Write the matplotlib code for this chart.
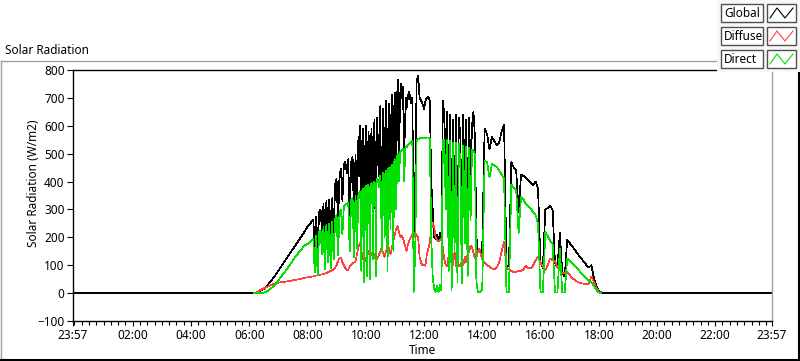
import numpy as np
import matplotlib
matplotlib.use('Agg')
import matplotlib.pyplot as plt
from matplotlib.patches import Rectangle

plt.rcParams['font.family'] = ['Noto Sans', 'DejaVu Sans']

nan = np.nan

# ---- sample times (minutes after midnight) ----
morning_minutes = np.arange(360, 480, 5)       # 06:00 .. 07:55
early_minutes = np.arange(480, 585, 3)         # 08:00 .. 09:42
dense_minutes = np.arange(585, 690, 1.5)       # 09:45 .. 11:28.5
late_minutes = np.arange(690, 840, 3)          # 11:30 .. 13:57
afternoon_minutes = np.arange(840, 1101, 5)    # 14:00 .. 18:20
night_start, night_end = -3, 1437              # 23:57 .. 23:57

# ---- Global ----
global_morning = [0, 0, 0, 3, 7, 11, 15, 22, 33, 44, 55, 67, 80, 93, 106, 119, 132, 145, 158, 171, 184, 197, 210, 223]
global_early = [238, 244, 250, 257, 264, 160, 275, 145, 290, 300,
                220, 320, 165, 330, 200, 335, 180, 340, 215, 390,
                410, 250, 420, 445, 330, 460, 470, 430, 480, 250,
                470, 490, 250, 495, 300]
global_dense = [560, 420, 600, 450, 240, 520, 590, 380, 140, 460,
                600, 350, 200, 480, 580, 300, 190, 520, 590, 420,
                250, 560, 620, 380, 110, 540, 630, 480, 420, 600,
                670, 400, 300, 560, 660, 420, 330, 600, 690, 450,
                230, 580, 680, 500, 350, 620, 710, 460, 320, 650,
                720, 520, 400, 690, 765, 600, 500, 680, 750, 700,
                700, 740, 620, 520, 600, 700, 660, 690, 700, 720]
global_late = [720, 680, 700, 210, 400, 760, 780, 700, 690, 680,
               660, 690, 700, 705, 690, 400, 300, 200, 195, 210,
               190, 215, 200, 690, 640, 400, 650, 230, 640, 170,
               620, 300, 640, 180, 630, 560, 150, 640, 300, 620,
               200, 630, 420, 600, 650, 560, 200, 150, 160, 140]
global_afternoon = [160, 590, 570, 515, 560, 545, 530, 540, 580, 605,
                    100, 95, 470, 450, 440, 290, 425, 420, 412, 405,
                    395, 388, 400, 375, 110, 90, 300, 305, 312, 300,
                    107, 95, 215, 70, 60, 190, 180, 168, 158, 145,
                    133, 122, 112, 100, 92, 100, 55, 28, 10, 2,
                    0, 0, 0]

# ---- Diffuse ----
diffuse_morning = [nan, nan, 0, 3, 8, 13, 17, 21, 25, 29, 32, 35, 37, 39, 40, 41, 43, 44, 46, 47, 49, 51, 53, 55]
diffuse_early = [56, 57, 58, 59, 60, 62, 63, 63, 64, 66,
                 67, 68, 70, 72, 75, 76, 80, 82, 86, 92,
                 100, 115, 125, 128, 110, 100, 88, 82, 84, 95,
                 100, 105, 110, 115, 140]
diffuse_dense = [165, 172, 180, 165, 150, 140, 130, 120, 110, 115,
                 120, 130, 140, 146, 150, 140, 130, 135, 140, 146,
                 150, 142, 135, 128, 120, 122, 125, 130, 135, 142,
                 150, 156, 160, 152, 145, 138, 130, 140, 150, 162,
                 175, 168, 160, 150, 140, 150, 160, 175, 190, 200,
                 210, 222, 230, 236, 240, 228, 215, 208, 200, 202,
                 205, 198, 190, 180, 170, 160, 150, 162, 175, 182]
diffuse_late = [190, 200, 210, 200, 215, 205, 200, 130, 110, 100,
                102, 98, 140, 160, 180, 230, 250, 240, 200, 190,
                185, 190, 195, 160, 120, 100, 96, 140, 110, 165,
                100, 150, 95, 125, 96, 98, 115, 100, 130, 110,
                140, 150, 170, 165, 145, 125, 125, 150, 160, 140]
diffuse_afternoon = [120, 110, 100, 95, 88, 85, 92, 110, 150, 185,
                     90, 85, 80, 75, 76, 80, 80, 85, 98, 90,
                     88, 100, 118, 130, 110, 95, 82, 100, 124, 118,
                     115, 90, 82, 72, 70, 76, 65, 55, 48, 42,
                     38, 35, 33, 32, 35, 60, 40, 18, 6, 0,
                     nan, nan, nan]

# ---- Direct ----
direct_morning = [nan, nan, 0, 0, 0, 0, 2, 5, 10, 17, 25, 33, 45, 57, 69, 80, 92, 104, 117, 130, 141, 152, 162, 172]
direct_early = [176, 180, 186, 191, 196, 75, 205, 65, 218, 225,
                140, 238, 85, 245, 110, 250, 90, 255, 120, 265,
                280, 135, 290, 300, 210, 310, 318, 320, 325, 150,
                335, 340, 130, 350, 160]
direct_dense = [360, 340, 365, 350, 80, 362, 375, 300, 40, 370,
                385, 300, 60, 385, 390, 250, 50, 388, 395, 380,
                120, 398, 400, 390, 60, 402, 410, 405, 380, 412,
                420, 380, 150, 425, 430, 400, 200, 435, 440, 420,
                80, 445, 450, 440, 230, 452, 460, 440, 150, 465,
                480, 470, 300, 485, 500, 495, 400, 505, 510, 508,
                515, 518, 515, 400, 512, 525, 522, 528, 530, 532]
direct_late = [535, 540, 545, 5, 150, 550, 552, 555, 556, 556,
               557, 557, 558, 558, 555, 200, 60, 15, 5, 25,
               5, 30, 10, 550, 550, 300, 548, 80, 545, 10,
               540, 150, 540, 40, 535, 470, 35, 530, 180, 525,
               60, 520, 260, 515, 510, 500, 40, 5, 5, 5]
direct_afternoon = [10, 475, 470, 415, 462, 458, 452, 440, 425, 410,
                    3, 3, 390, 378, 368, 215, 345, 335, 318, 312,
                    303, 290, 280, 250, 5, 3, 218, 205, 188, 178,
                    2, 2, 158, 2, 2, 124, 115, 108, 100, 90,
                    80, 70, 62, 52, 44, 38, 25, 12, 3, 0,
                    nan, nan, nan]

# ---- axis labels ----
x_tick_minutes = [-3, 120, 240, 360, 480, 600, 720, 840, 960, 1080, 1200, 1320, 1437]
x_tick_labels = ['23:57', '02:00', '04:00', '06:00', '08:00', '10:00', '12:00',
                 '14:00', '16:00', '18:00', '20:00', '22:00', '23:57']
y_ticks = [-100, 0, 100, 200, 300, 400, 500, 600, 700, 800]
series_names = ['Global', 'Diffuse', 'Direct']
series_colors = ['#000000', '#ff4040', '#00e000']

minutes = np.concatenate([morning_minutes, early_minutes, dense_minutes, late_minutes, afternoon_minutes])
t_global = np.concatenate([[night_start], minutes, [night_end]])
v_global = np.concatenate([[0], global_morning, global_early, global_dense, global_late, global_afternoon, [0]])
v_diffuse = np.concatenate([diffuse_morning, diffuse_early, diffuse_dense, diffuse_late, diffuse_afternoon])
v_direct = np.concatenate([direct_morning, direct_early, direct_dense, direct_late, direct_afternoon])

W, H = 800, 361
fig = plt.figure(figsize=(W / 100, H / 100), dpi=100)
fig.patch.set_facecolor('white')

ax = fig.add_axes([73 / W, (H - 321) / H, (772 - 73) / W, (321 - 70) / H])
lw = 0.5
ax.plot(t_global, v_global, color=series_colors[0], lw=lw, antialiased=False)
ax.plot(minutes, v_diffuse, color=series_colors[1], lw=lw, antialiased=False)
ax.plot(minutes, v_direct, color=series_colors[2], lw=lw, antialiased=False)

ax.set_xlim(night_start, night_end)
ax.set_ylim(-100, 800)
ax.set_xticks(x_tick_minutes)
ax.set_xticklabels(x_tick_labels)
ax.set_xticks(np.arange(0, 1437, 15), minor=True)
ax.set_yticks(y_ticks)
ax.tick_params(axis='both', which='major', direction='out', labelsize=8.5,
               colors='black', width=0.8)
ax.tick_params(axis='x', which='major', length=3.5, pad=2)
ax.tick_params(axis='x', which='minor', length=3, width=0.8)
ax.tick_params(axis='y', which='major', length=4, pad=2)
for side in ['left', 'bottom', 'top']:
    ax.spines[side].set_color('black')
    ax.spines[side].set_linewidth(1.0)
ax.spines['right'].set_color('#a0a0a0')
ax.spines['right'].set_linewidth(1.0)

ax.set_xlabel('Time', fontsize=8.5, labelpad=2)
ax.set_ylabel('Solar Radiation (W/m2)', fontsize=8.5)
ax.yaxis.set_label_coords(-0.047, 0.55)

# ---- overlay in pixel coordinates ----
ov = fig.add_axes([0, 0, 1, 1], facecolor='none')
ov.set_xlim(0, W)
ov.set_ylim(H, 0)
ov.axis('off')

# outer chart frame
ov.plot([1, 717], [61, 61], color='#a0a0a0', lw=1.0)
ov.plot([1, 1], [61, 360], color='#a0a0a0', lw=1.0)
ov.plot([0, 800], [359.5, 359.5], color='black', lw=1.5)
ov.plot([798.5, 798.5], [72, 360], color='black', lw=1.5)

ov.text(5, 50, 'Solar Radiation', fontsize=8.5, va='center', ha='left')

# legend panel
ov.add_patch(Rectangle((717, 0), 83, 72, facecolor='#f8f8f8', edgecolor='none', zorder=2))
box_tops = [4, 27, 50]
for name, color, top in zip(series_names, series_colors, box_tops):
    ov.add_patch(Rectangle((721, top), 42, 18, facecolor='white', edgecolor='#505050', lw=1.0, zorder=3))
    ov.text(724, top + 9.5, name, fontsize=8.5, va='center', ha='left', zorder=4)
    ov.add_patch(Rectangle((767, top), 29, 18, facecolor='white', edgecolor='#505050', lw=1.0, zorder=3))
    ov.plot([770, 777, 785, 793], [top + 14, top + 4, top + 14, top + 4], color=color, lw=0.8, zorder=4)

fig.savefig('out.png', dpi=100)
